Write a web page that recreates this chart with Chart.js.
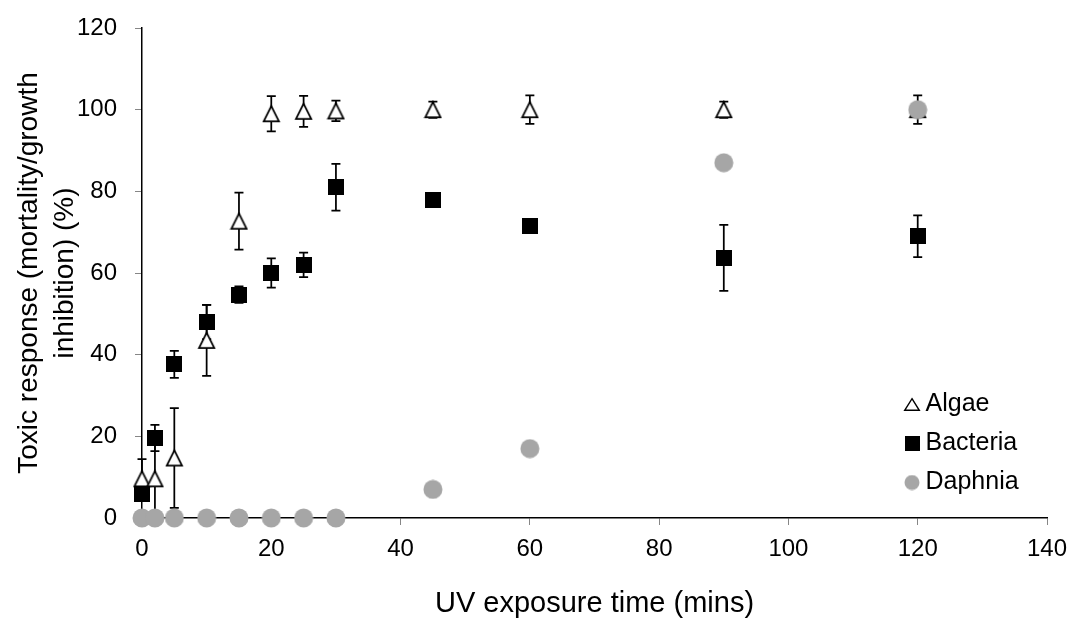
<!DOCTYPE html>
<html>
<head>
<meta charset="utf-8">
<script src="https://cdn.jsdelivr.net/npm/chart.js@4/dist/chart.umd.min.js"></script>
<style>
  html, body { margin: 0; padding: 0; background: #fff; }
  #wrap { width: 1072px; height: 623px; }
</style>
</head>
<body>
<div id="wrap"><canvas id="c" width="1072" height="623"></canvas></div>
<script>
// ---- Data ----
const timeMins = [0, 2, 5, 10, 15, 20, 25, 30, 45, 60, 90, 120];
const algae = [9.6, 9.6, 14.7, 43.5, 72.7, 99, 99.6, 99.7, 100, 100, 100, 100];
const algaeErr = [4.8, 9, 12.2, 8.7, 7, 4.3, 3.8, 2.5, 2, 3.5, 2, 3.5];
const bacteria = [6, 19.6, 37.6, 48, 54.7, 60, 62, 81, 78, 71.6, 63.7, 69];
const bacteriaErr = [1.5, 3.2, 3.3, 4.2, 2, 3.6, 3, 5.7, 1, 1, 8.1, 5.1];
const daphnia = [0, 0, 0, 0, 0, 0, 0, 0, 7, 17, 87, 100];
const seriesNames = ['Algae', 'Bacteria', 'Daphnia'];
const xTickStep = 20, xMax = 140;
const yTickStep = 20, yMax = 120;

const FONT = "'Liberation Sans', Arial, sans-serif";
const GREY = '#a6a6a6';

// ---- marker images ----
function mk(w, h, draw) {
  const c = document.createElement('canvas');
  c.width = w; c.height = h;
  draw(c.getContext('2d'));
  return c;
}
function triangle(w, h, lw) {
  return mk(w, h, (g) => {
    const m = lw / 2 + 1;
    g.beginPath();
    g.moveTo(w / 2, m);
    g.lineTo(w - m, h - m);
    g.lineTo(m, h - m);
    g.closePath();
    g.fillStyle = '#fff'; g.fill();
    g.lineWidth = lw; g.strokeStyle = '#000'; g.lineJoin = 'miter'; g.stroke();
  });
}
function square(s) {
  return mk(s, s, (g) => { g.fillStyle = '#000'; g.fillRect(0, 0, s, s); });
}
function circle(d) {
  return mk(d + 1, d + 1, (g) => {
    g.beginPath(); g.arc((d + 1) / 2, (d + 1) / 2, d / 2, 0, Math.PI * 2);
    g.fillStyle = GREY; g.fill();
  });
}
const plotMarkers = [triangle(19, 19, 1.75), square(16), circle(19)];
const legendMarkers = [triangle(18, 15, 1.4), square(15), circle(15)];

function pts(ys) { return timeMins.map((t, i) => ({ x: t, y: ys[i] })); }

// ---- plugins ----
const errorBars = {
  id: 'errorBars',
  beforeDatasetsDraw(chart) {
    const { ctx } = chart;
    const xs = chart.scales.x, ys = chart.scales.y;
    const cap = 4.5;
    ctx.save();
    ctx.strokeStyle = '#000';
    ctx.lineWidth = 1.75;
    chart.data.datasets.forEach((ds) => {
      if (!ds.errors) return;
      ds.data.forEach((p, i) => {
        const e = ds.errors[i];
        if (!e) return;
        const px = xs.getPixelForValue(p.x);
        const t = ys.getPixelForValue(p.y + e);
        const b = ys.getPixelForValue(p.y - e);
        ctx.beginPath();
        ctx.moveTo(px, t); ctx.lineTo(px, b);
        ctx.moveTo(px - cap, t); ctx.lineTo(px + cap, t);
        ctx.moveTo(px - cap, b); ctx.lineTo(px + cap, b);
        ctx.stroke();
      });
    });
    ctx.restore();
  }
};
const legendPlace = {
  id: 'legendPlace',
  beforeDraw(chart) {
    const lg = chart.legend, ca = chart.chartArea;
    if (!lg) return;
    const w = lg.width, h = lg.height;
    lg.left = ca.right - 150;
    lg.top = ca.top + 350;
    lg.right = lg.left + w;
    lg.bottom = lg.top + h;
  }
};

new Chart(document.getElementById('c'), {
  type: 'scatter',
  data: {
    datasets: [
      { label: seriesNames[0], data: pts(algae), errors: algaeErr, pointStyle: plotMarkers[0], pointRadius: 10, order: 3, clip: false },
      { label: seriesNames[1], data: pts(bacteria), errors: bacteriaErr, pointStyle: plotMarkers[1], pointRadius: 10, order: 2, clip: false },
      { label: seriesNames[2], data: pts(daphnia), pointStyle: plotMarkers[2], pointRadius: 10, order: 1, clip: false }
    ]
  },
  options: {
    responsive: false,
    animation: false,
    devicePixelRatio: 1,
    layout: { padding: { top: 28, right: 25, left: 0, bottom: 0 } },
    plugins: {
      tooltip: { enabled: false },
      legend: {
        position: 'chartArea',
        align: 'start',
        labels: {
          usePointStyle: true,
          boxWidth: 2,
          padding: 14,
          color: '#000',
          font: { family: FONT, size: 25 },
          sort: (a, b) => a.datasetIndex - b.datasetIndex,
          generateLabels(chart) {
            const items = Chart.defaults.plugins.legend.labels.generateLabels(chart);
            items.forEach((it) => { it.pointStyle = legendMarkers[it.datasetIndex]; });
            return items;
          }
        }
      }
    },
    scales: {
      x: {
        type: 'linear',
        min: 0, max: xMax,
        ticks: { stepSize: xTickStep, color: '#000', padding: 10, font: { family: FONT, size: 24 } },
        grid: { drawOnChartArea: false, color: '#868686', tickLength: 7, tickWidth: 1 },
        border: { display: true, color: '#000', width: 1.5 },
        title: { display: true, text: 'UV exposure time (mins)', color: '#000', font: { family: FONT, size: 29, lineHeight: 1.2 }, padding: { top: 0, bottom: 2 } },
        afterFit(scale) { scale.height = 105; scale.paddingLeft = 0; scale.paddingRight = 0; }
      },
      y: {
        type: 'linear',
        min: 0, max: yMax,
        ticks: { stepSize: yTickStep, color: '#000', padding: 18, font: { family: FONT, size: 24 } },
        grid: { drawOnChartArea: false, color: '#868686', tickLength: 7, tickWidth: 1 },
        border: { display: true, color: '#000', width: 1.5 },
        title: { display: true, text: ['Toxic response (mortality/growth', 'inhibition) (%)'], color: '#000', font: { family: FONT, size: 28, lineHeight: 1.3 }, padding: { top: 11, bottom: 0 } },
        afterFit(scale) { scale.width = 142; scale.paddingTop = 0; scale.paddingBottom = 0; }
      }
    }
  },
  plugins: [errorBars, legendPlace]
});
</script>
</body>
</html>
